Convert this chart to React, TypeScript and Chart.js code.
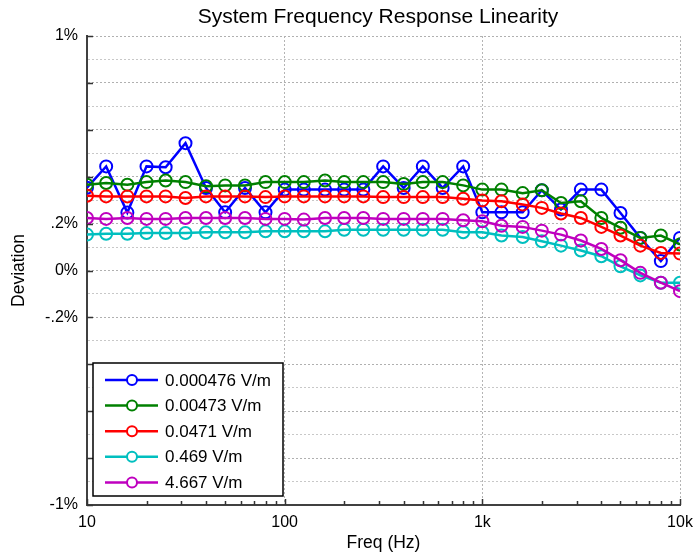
import React, { useEffect, useRef } from 'react';
import { Chart, registerables } from 'chart.js';

Chart.register(...registerables);

const FONT = "'Liberation Sans', Arial, sans-serif";

const chartTitle = 'System Frequency Response Linearity';

const freqs = [10, 12.5, 16, 20, 25, 31.5, 40, 50, 63, 80, 100, 125, 160, 200, 250, 315, 400, 500, 630, 800, 1000, 1250, 1600, 2000, 2500, 3150, 4000, 5000, 6300, 8000, 10000];

const seriesLabels = ['0.000476 V/m', '0.00473 V/m', '0.0471 V/m', '0.469 V/m', '4.667 V/m'];
const seriesColors = ['#0000ff', '#008000', '#ff0000', '#00bfbf', '#bf00bf'];

const dev0000476 = [0.353, 0.444, 0.247, 0.444, 0.44, 0.543, 0.352, 0.248, 0.352, 0.248, 0.345, 0.345, 0.345, 0.345, 0.345, 0.444, 0.352, 0.444, 0.352, 0.444, 0.248, 0.248, 0.248, 0.342, 0.26, 0.345, 0.345, 0.245, 0.139, 0.04, 0.139];
const dev000473 = [0.366, 0.373, 0.366, 0.377, 0.384, 0.377, 0.359, 0.363, 0.363, 0.377, 0.377, 0.377, 0.384, 0.377, 0.377, 0.377, 0.369, 0.377, 0.377, 0.363, 0.345, 0.345, 0.33, 0.342, 0.288, 0.295, 0.224, 0.182, 0.139, 0.149, 0.111];
const dev00471 = [0.319, 0.316, 0.316, 0.316, 0.316, 0.309, 0.316, 0.316, 0.316, 0.313, 0.316, 0.316, 0.316, 0.316, 0.316, 0.313, 0.313, 0.313, 0.313, 0.306, 0.299, 0.295, 0.281, 0.267, 0.243, 0.224, 0.186, 0.149, 0.106, 0.075, 0.072];
const dev0469 = [0.153, 0.157, 0.157, 0.16, 0.16, 0.16, 0.163, 0.163, 0.163, 0.167, 0.167, 0.167, 0.167, 0.174, 0.174, 0.174, 0.174, 0.174, 0.174, 0.163, 0.163, 0.149, 0.143, 0.125, 0.106, 0.085, 0.061, 0.018, -0.021, -0.052, -0.052];
const dev4667 = [0.224, 0.22, 0.224, 0.22, 0.22, 0.224, 0.224, 0.224, 0.224, 0.22, 0.22, 0.217, 0.224, 0.224, 0.224, 0.22, 0.22, 0.22, 0.22, 0.214, 0.21, 0.191, 0.186, 0.17, 0.153, 0.128, 0.092, 0.044, -0.01, -0.052, -0.088];

const seriesValues = [dev0000476, dev000473, dev00471, dev0469, dev4667];

// tick values
const xTickValues = [10, 20, 30, 40, 50, 60, 70, 80, 90, 100, 200, 300, 400, 500, 600, 700, 800, 900, 1000, 2000, 3000, 4000, 5000, 6000, 7000, 8000, 9000, 10000];
const xTickLabels: Record<number, string> = { 10: '10', 100: '100', 1000: '1k', 10000: '10k' };
const yGridValues = [-1, -0.9, -0.8, -0.7, -0.6, -0.5, -0.4, -0.3, -0.2, -0.1, 0, 0.1, 0.2, 0.3, 0.4, 0.5, 0.6, 0.7, 0.8, 0.9, 1];
const yTickLabels: Record<string, string> = { '1': '1%', '0.2': '.2%', '0': '0%', '-0.2': '-.2%', '-1': '-1%' };

const isDecade = (v: number) => Math.abs(Math.log10(v) - Math.round(Math.log10(v))) < 1e-9;
const roundY = (v: number) => Math.round(v * 10) / 10;
const isYMajor = (v: number) => Math.abs(Math.round(v * 10)) % 2 === 0;

const titleDraw = {
  id: 'titleDraw',
  afterDraw(chart: any) {
    const { ctx } = chart;
    ctx.save();
    ctx.font = `21px ${FONT}`;
    ctx.fillStyle = '#000000';
    ctx.textAlign = 'center';
    ctx.textBaseline = 'middle';
    ctx.fillText(chartTitle, 378, 17);
    ctx.restore();
  },
};

const inwardTicks = {
  id: 'inwardTicks',
  afterDraw(chart: any) {
    const { ctx, chartArea, scales } = chart;
    const x = scales.x;
    const y = scales.y;
    ctx.save();
    ctx.strokeStyle = '#333333';
    ctx.lineWidth = 1.5;
    ctx.beginPath();
    x.ticks.forEach((t: any) => {
      const px = Math.round(x.getPixelForValue(t.value)) + 0.5;
      const len = isDecade(t.value) ? 6 : 4;
      ctx.moveTo(px, chartArea.bottom);
      ctx.lineTo(px, chartArea.bottom - len);
    });
    y.ticks.forEach((t: any) => {
      if (!isYMajor(t.value)) return;
      const py = Math.round(y.getPixelForValue(t.value)) + 0.5;
      ctx.moveTo(chartArea.left, py);
      ctx.lineTo(chartArea.left + 6, py);
    });
    ctx.stroke();
    ctx.restore();
  },
};

const boxLegend = {
  id: 'boxLegend',
  afterDraw(chart: any) {
    const { ctx, chartArea } = chart;
    const left = chartArea.left + 6;
    const top = 363;
    const width = 190;
    const height = 133;
    ctx.save();
    ctx.fillStyle = '#ffffff';
    ctx.fillRect(left, top, width, height);
    ctx.strokeStyle = '#000000';
    ctx.lineWidth = 1.5;
    ctx.strokeRect(left, top, width, height);
    ctx.font = `17px ${FONT}`;
    ctx.textBaseline = 'middle';
    ctx.textAlign = 'left';
    chart.data.datasets.forEach((ds: any, i: number) => {
      const cy = top + 17 + i * 25.6;
      ctx.strokeStyle = ds.borderColor;
      ctx.lineWidth = 2.5;
      ctx.beginPath();
      ctx.moveTo(left + 12, cy);
      ctx.lineTo(left + 65, cy);
      ctx.stroke();
      ctx.beginPath();
      ctx.arc(left + 39, cy, 5, 0, Math.PI * 2);
      ctx.fillStyle = '#ffffff';
      ctx.fill();
      ctx.lineWidth = 2;
      ctx.stroke();
      ctx.fillStyle = '#000000';
      ctx.fillText(ds.label, left + 72, cy + 1);
    });
    ctx.restore();
  },
};

export default function App() {
  const canvasRef = useRef<HTMLCanvasElement | null>(null);

  useEffect(() => {
    if (!canvasRef.current) return;
    const datasets = seriesValues.map((vals, i) => ({
      label: seriesLabels[i],
      data: vals.map((v, j) => ({ x: freqs[j], y: v })),
      borderColor: seriesColors[i],
      backgroundColor: 'transparent',
      pointBackgroundColor: 'transparent',
      pointBorderColor: seriesColors[i],
      borderWidth: 2.5,
      pointRadius: 6,
      pointBorderWidth: 2,
      pointStyle: 'circle',
      tension: 0,
      order: seriesValues.length - i,
    }));

    const chart = new Chart(canvasRef.current, {
      type: 'line',
      data: { datasets },
      options: {
        responsive: false,
        animation: false,
        devicePixelRatio: 1,
        layout: { padding: { left: 0, right: 0, top: 36, bottom: 0 } },
        plugins: {
          legend: { display: false },
          tooltip: { enabled: false },
          title: { display: false },
        },
        scales: {
          x: {
            type: 'logarithmic',
            min: 10,
            max: 10000,
            afterBuildTicks: (scale: any) => {
              scale.ticks = xTickValues.map((v) => ({ value: v }));
            },
            afterFit: (scale: any) => {
              scale.height = 49;
              scale.paddingRight = 13;
              scale.paddingLeft = 0;
            },
            ticks: {
              autoSkip: false,
              maxRotation: 0,
              padding: 8,
              color: '#000000',
              font: { family: FONT, size: 16 },
              callback: (value: any) => xTickLabels[Number(value)] ?? '',
            },
            grid: {
              drawTicks: false,
              lineWidth: 1,
              color: (c: any) => (c.tick && isDecade(c.tick.value) ? '#b4b4b4' : 'transparent'),
            },
            border: { display: true, color: '#404040', width: 2, dash: [2, 2] },
            title: {
              display: true,
              text: 'Freq (Hz)',
              color: '#000000',
              font: { family: FONT, size: 17.5 },
              padding: { top: 0, bottom: 0 },
            },
          },
          y: {
            type: 'linear',
            min: -1,
            max: 1,
            afterBuildTicks: (scale: any) => {
              scale.ticks = yGridValues.map((v) => ({ value: v }));
            },
            afterFit: (scale: any) => {
              scale.width = 87;
            },
            ticks: {
              autoSkip: false,
              padding: 9,
              color: '#000000',
              font: { family: FONT, size: 16 },
              callback: (value: any) => yTickLabels[String(roundY(Number(value)))] ?? '',
            },
            grid: {
              drawTicks: false,
              lineWidth: 1,
              color: (c: any) => (c.tick && isYMajor(c.tick.value) ? '#b0b0b0' : '#c8c8c8'),
            },
            border: { display: true, color: '#404040', width: 2, dash: [2, 2] },
            title: {
              display: true,
              text: 'Deviation',
              color: '#000000',
              font: { family: FONT, size: 17.5 },
              padding: { top: 9, bottom: 0 },
            },
          },
        },
      },
      plugins: [inwardTicks, boxLegend, titleDraw],
    } as any);

    return () => chart.destroy();
  }, []);

  return (
    <div style={{ position: 'fixed', left: 0, top: 0, width: 693, height: 554, background: '#ffffff' }}>
      <canvas ref={canvasRef} width={693} height={554} style={{ width: 693, height: 554, display: 'block' }} />
    </div>
  );
}
